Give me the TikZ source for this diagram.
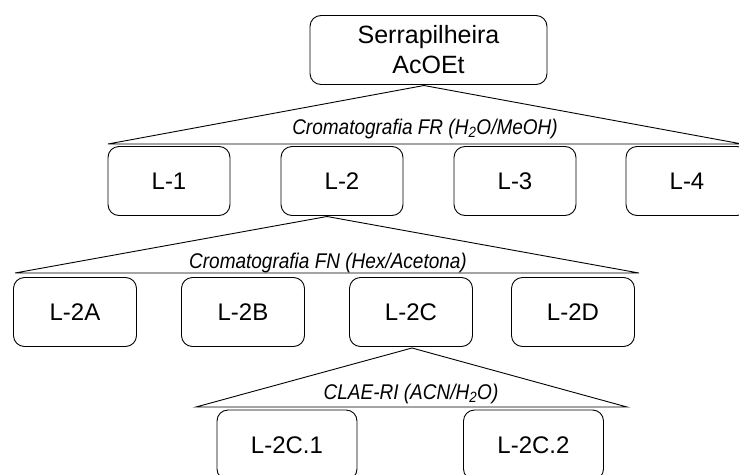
\documentclass[tikz,border=0pt]{standalone}
\usepackage{fontspec}
\setmainfont{Liberation Sans}
\begin{document}
\begin{tikzpicture}[x=1pt,y=-1pt,
  box/.style={draw, rounded corners=11pt, line width=0.9pt, minimum width=122pt, minimum height=69pt, inner sep=0pt, font=\fontsize{24}{28}\selectfont, align=center},
  tri/.style={draw, line width=0.9pt, line join=miter},
  lbl/.style={font=\fontsize{19}{22}\selectfont\itshape, inner sep=0pt, anchor=base}]
\useasboundingbox (0,0) rectangle (739,474);
\clip (0,0) rectangle (739,474);
% top
\node[box, minimum width=237pt, minimum height=69pt, font=\fontsize{25}{30}\selectfont] (top) at (428.5,50) {Serrapilheira\\AcOEt};
% row 1
\node[box] (l1) at (169,181) {L-1};
\node[box] (l2) at (342,181) {L-2};
\node[box] (l3) at (515,181) {L-3};
\node[box] (l4) at (687,181) {L-4};
% row 2
\node[box, minimum width=123pt] (l2a) at (75,312) {L-2A};
\node[box, minimum width=123pt] (l2b) at (243,312) {L-2B};
\node[box, minimum width=123pt] (l2c) at (411,312) {L-2C};
\node[box, minimum width=123pt] (l2d) at (573,312) {L-2D};
% row 3
\node[box, minimum width=140pt, minimum height=70pt] (l2c1) at (287,445) {L-2C.1};
\node[box, minimum width=140pt, minimum height=70pt] (l2c2) at (533.5,445) {L-2C.2};
% triangles
\coordinate (a1) at (424,85.5);
\coordinate (b1l) at (108,144);
\coordinate (b1r) at (742,144);
\draw[tri] (a1) -- (b1l) -- (b1r) -- cycle;
\node[lbl] (t1) at (425,134) {\scalebox{1}[1.12]{Cromatografia FR (H\textsubscript{2}O/MeOH)}};
\coordinate (a2) at (327,216.5);
\coordinate (b2l) at (15,273);
\coordinate (b2r) at (639,273);
\draw[tri] (a2) -- (b2l) -- (b2r) -- cycle;
\node[lbl] (t2) at (328,268) {\scalebox{1}[1.12]{Cromatografia FN (Hex/Acetona)}};
\coordinate (a3) at (412,348);
\coordinate (b3l) at (196,407);
\coordinate (b3r) at (627,407);
\draw[tri] (a3) -- (b3l) -- (b3r) -- cycle;
\node[lbl] (t3) at (411,399) {\scalebox{1}[1.12]{CLAE-RI (ACN/H\textsubscript{2}O)}};
\end{tikzpicture}
\end{document}
